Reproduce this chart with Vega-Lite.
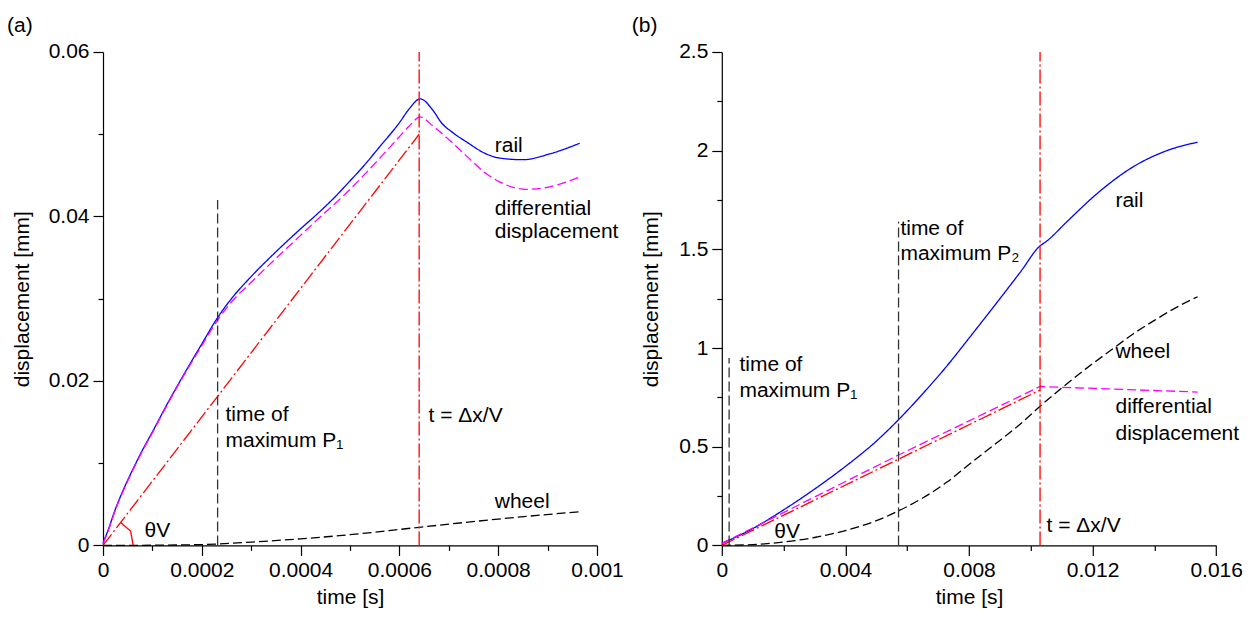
{
  "$schema": "https://vega.github.io/schema/vega-lite/v6.json",
  "padding": {"left": 7, "top": 15, "right": 5, "bottom": 5},
  "bounds": "flush",
  "spacing": 124.8,
  "datasets": {
    "a_lines": [
      {"s": "rail", "t": 0, "d": 0.0003}, {"s": "rail", "t": 0.00001, "d": 0.0018}, {"s": "rail", "t": 0.000025, "d": 0.0044},
      {"s": "rail", "t": 0.00004, "d": 0.0066}, {"s": "rail", "t": 0.00006, "d": 0.0092}, {"s": "rail", "t": 0.00008, "d": 0.0116},
      {"s": "rail", "t": 0.0001, "d": 0.0138}, {"s": "rail", "t": 0.00013, "d": 0.0172}, {"s": "rail", "t": 0.00016, "d": 0.0204},
      {"s": "rail", "t": 0.0002, "d": 0.0245}, {"s": "rail", "t": 0.000232, "d": 0.0277}, {"s": "rail", "t": 0.00026, "d": 0.03},
      {"s": "rail", "t": 0.0003, "d": 0.0327}, {"s": "rail", "t": 0.00035, "d": 0.0357}, {"s": "rail", "t": 0.0004, "d": 0.0385},
      {"s": "rail", "t": 0.00043, "d": 0.0401}, {"s": "rail", "t": 0.00047, "d": 0.0424}, {"s": "rail", "t": 0.000495, "d": 0.044},
      {"s": "rail", "t": 0.00053, "d": 0.0463}, {"s": "rail", "t": 0.000559, "d": 0.0484}, {"s": "rail", "t": 0.0006, "d": 0.0514},
      {"s": "rail", "t": 0.00062, "d": 0.0531}, {"s": "rail", "t": 0.000642, "d": 0.0543},
      {"s": "rail", "t": 0.000668, "d": 0.0529}, {"s": "rail", "t": 0.000685, "d": 0.0514},
      {"s": "rail", "t": 0.000708, "d": 0.0502}, {"s": "rail", "t": 0.000735, "d": 0.0491}, {"s": "rail", "t": 0.000776, "d": 0.0476},
      {"s": "rail", "t": 0.000803, "d": 0.0471}, {"s": "rail", "t": 0.00085, "d": 0.0469}, {"s": "rail", "t": 0.000904, "d": 0.0476},
      {"s": "rail", "t": 0.000965, "d": 0.0489},
      {"s": "diff", "t": 0, "d": 0.0002}, {"s": "diff", "t": 0.00001, "d": 0.0017}, {"s": "diff", "t": 0.000025, "d": 0.0043},
      {"s": "diff", "t": 0.00004, "d": 0.0065}, {"s": "diff", "t": 0.00006, "d": 0.0091}, {"s": "diff", "t": 0.00008, "d": 0.0115},
      {"s": "diff", "t": 0.0001, "d": 0.0137}, {"s": "diff", "t": 0.00013, "d": 0.0171}, {"s": "diff", "t": 0.00016, "d": 0.0203},
      {"s": "diff", "t": 0.0002, "d": 0.0243}, {"s": "diff", "t": 0.000232, "d": 0.0274}, {"s": "diff", "t": 0.00026, "d": 0.0296},
      {"s": "diff", "t": 0.0003, "d": 0.032}, {"s": "diff", "t": 0.00035, "d": 0.0349}, {"s": "diff", "t": 0.0004, "d": 0.0377},
      {"s": "diff", "t": 0.00043, "d": 0.0394}, {"s": "diff", "t": 0.000495, "d": 0.043}, {"s": "diff", "t": 0.000559, "d": 0.047},
      {"s": "diff", "t": 0.0006, "d": 0.0497}, {"s": "diff", "t": 0.00062, "d": 0.051}, {"s": "diff", "t": 0.000642, "d": 0.0521},
      {"s": "diff", "t": 0.000668, "d": 0.051}, {"s": "diff", "t": 0.000701, "d": 0.0493},
      {"s": "diff", "t": 0.000735, "d": 0.0474}, {"s": "diff", "t": 0.000776, "d": 0.0452}, {"s": "diff", "t": 0.000803, "d": 0.0442},
      {"s": "diff", "t": 0.000857, "d": 0.0433}, {"s": "diff", "t": 0.000904, "d": 0.0436}, {"s": "diff", "t": 0.000965, "d": 0.0448},
      {"s": "wheel", "t": 0, "d": 0}, {"s": "wheel", "t": 0.0001, "d": 0.00002}, {"s": "wheel", "t": 0.0002, "d": 0.0001},
      {"s": "wheel", "t": 0.0003, "d": 0.0004}, {"s": "wheel", "t": 0.0004, "d": 0.0008}, {"s": "wheel", "t": 0.0005, "d": 0.0013},
      {"s": "wheel", "t": 0.00064, "d": 0.0022}, {"s": "wheel", "t": 0.0008, "d": 0.0032}, {"s": "wheel", "t": 0.000965, "d": 0.0041},
      {"s": "slope", "t": 0, "d": 0}, {"s": "slope", "t": 0.00064, "d": 0.05}
    ],
    "a_theta": [
      {"t": 0.0000357, "d": 0.00279}, {"t": 0.0000558, "d": 0.00174}, {"t": 0.0000611, "d": 0}
    ],
    "a_rules": [
      {"s": "tmax", "t": 0.000232, "y1": 0, "y2": 0.042},
      {"s": "tdx", "t": 0.00064, "y1": 0, "y2": 0.06}
    ],
    "a_text": [
      {"label": "rail", "t": 0.000793, "d": 0.0486},
      {"label": "differential", "t": 0.000793, "d": 0.0409},
      {"label": "displacement", "t": 0.000793, "d": 0.0381},
      {"label": "time of", "t": 0.000248, "d": 0.0158},
      {"label": "maximum P₁", "t": 0.000248, "d": 0.0127},
      {"label": "t = Δx/V", "t": 0.000659, "d": 0.0157},
      {"label": "wheel", "t": 0.000793, "d": 0.0053},
      {"label": "θV", "t": 0.000084, "d": 0.0018}
    ],
    "b_smooth": [
      {"s": "rail", "t": 0, "d": 0.01}, {"s": "rail", "t": 0.001, "d": 0.085}, {"s": "rail", "t": 0.002, "d": 0.18},
      {"s": "rail", "t": 0.003, "d": 0.285}, {"s": "rail", "t": 0.004, "d": 0.4}, {"s": "rail", "t": 0.005, "d": 0.528},
      {"s": "rail", "t": 0.00572, "d": 0.637}, {"s": "rail", "t": 0.0065, "d": 0.768}, {"s": "rail", "t": 0.0073, "d": 0.912},
      {"s": "rail", "t": 0.008, "d": 1.05}, {"s": "rail", "t": 0.009, "d": 1.25}, {"s": "rail", "t": 0.0097, "d": 1.393},
      {"s": "rail", "t": 0.01028, "d": 1.515}, {"s": "rail", "t": 0.0105, "d": 1.54}, {"s": "rail", "t": 0.0112, "d": 1.645},
      {"s": "rail", "t": 0.0122, "d": 1.79}, {"s": "rail", "t": 0.0133, "d": 1.917}, {"s": "rail", "t": 0.0144, "d": 2.0},
      {"s": "rail", "t": 0.0154, "d": 2.043},
      {"s": "wheel", "t": 0, "d": 0}, {"s": "wheel", "t": 0.001, "d": 0.004}, {"s": "wheel", "t": 0.002, "d": 0.017},
      {"s": "wheel", "t": 0.003, "d": 0.04}, {"s": "wheel", "t": 0.004, "d": 0.075}, {"s": "wheel", "t": 0.005, "d": 0.125},
      {"s": "wheel", "t": 0.00572, "d": 0.175}, {"s": "wheel", "t": 0.0065, "d": 0.24}, {"s": "wheel", "t": 0.0073, "d": 0.322},
      {"s": "wheel", "t": 0.008, "d": 0.41}, {"s": "wheel", "t": 0.009, "d": 0.532}, {"s": "wheel", "t": 0.0097, "d": 0.62},
      {"s": "wheel", "t": 0.0103, "d": 0.705}, {"s": "wheel", "t": 0.011, "d": 0.797}, {"s": "wheel", "t": 0.0118, "d": 0.897},
      {"s": "wheel", "t": 0.0126, "d": 0.99}, {"s": "wheel", "t": 0.0133, "d": 1.07}, {"s": "wheel", "t": 0.014, "d": 1.14},
      {"s": "wheel", "t": 0.0147, "d": 1.205}, {"s": "wheel", "t": 0.0154, "d": 1.26}
    ],
    "b_linear": [
      {"s": "diff", "t": 0, "d": 0.01}, {"s": "diff", "t": 0.00572, "d": 0.458}, {"s": "diff", "t": 0.0103, "d": 0.805},
      {"s": "diff", "t": 0.0125, "d": 0.793}, {"s": "diff", "t": 0.0154, "d": 0.777},
      {"s": "slope", "t": 0, "d": 0}, {"s": "slope", "t": 0.0103, "d": 0.787}
    ],
    "b_rules": [
      {"s": "tmax", "t": 0.000237, "y1": 0, "y2": 0.95},
      {"s": "tmax", "t": 0.00572, "y1": 0, "y2": 1.64},
      {"s": "tdx", "t": 0.0103, "y1": 0, "y2": 2.5}
    ],
    "b_text": [
      {"label": "time of", "t": 0.00057, "d": 0.915},
      {"label": "maximum P₁", "t": 0.00057, "d": 0.784},
      {"label": "time of", "t": 0.00578, "d": 1.603},
      {"label": "maximum P₂", "t": 0.00578, "d": 1.477},
      {"label": "rail", "t": 0.01274, "d": 1.746},
      {"label": "wheel", "t": 0.01274, "d": 0.981},
      {"label": "differential", "t": 0.01274, "d": 0.703},
      {"label": "displacement", "t": 0.01274, "d": 0.566},
      {"label": "t = Δx/V", "t": 0.01051, "d": 0.1},
      {"label": "θV", "t": 0.0017, "d": 0.07}
    ]
  },
  "hconcat": [
    {
      "width": 494,
      "height": 493.4,
      "title": {"text": "(a)", "dx": -96},
      "layer": [
        {
          "data": {"name": "a_lines"},
          "mark": {"type": "line", "strokeWidth": 1.3, "interpolate": "monotone"},
          "encoding": {
            "x": {"field": "t", "type": "quantitative", "scale": {"domain": [0, 0.001], "nice": false, "zero": false},
              "axis": {"values": [0, 0.0002, 0.0004, 0.0006, 0.0008, 0.001], "format": "~g", "title": "time [s]", "orient": "bottom"}},
            "y": {"field": "d", "type": "quantitative", "scale": {"domain": [0, 0.06], "nice": false, "zero": false},
              "axis": {"values": [0, 0.02, 0.04, 0.06], "format": "~g", "title": "displacement [mm]", "orient": "left", "titlePadding": 16}},
            "color": {"field": "s", "type": "nominal", "legend": null,
              "scale": {"domain": ["rail", "diff", "wheel", "slope", "tmax", "tdx"], "range": ["#0000ff", "#ff00ff", "#000000", "#ff0000", "#333333", "#ff0000"]}},
            "strokeDash": {"field": "s", "type": "nominal", "legend": null,
              "scale": {"domain": ["rail", "diff", "wheel", "slope", "tmax", "tdx"], "range": [[1, 0], [9, 4], [9, 4], [14, 3, 2, 3], [10, 4], [14, 3, 2, 3]]}}
          }
        },
        {
          "data": {"name": "a_theta"},
          "mark": {"type": "line", "strokeWidth": 1.3, "color": "#ff0000"},
          "encoding": {
            "x": {"field": "t", "type": "quantitative", "axis": null},
            "y": {"field": "d", "type": "quantitative", "axis": null}
          }
        },
        {
          "data": {"name": "a_rules"},
          "mark": {"type": "rule", "strokeWidth": 1.3},
          "encoding": {
            "x": {"field": "t", "type": "quantitative",
              "axis": {"values": [0.0001, 0.0003, 0.0005, 0.0007, 0.0009], "labels": false, "domain": false, "tickSize": 5, "title": null, "orient": "bottom"}},
            "y": {"field": "y1", "type": "quantitative",
              "axis": {"values": [0.01, 0.03, 0.05], "labels": false, "domain": false, "tickSize": 5, "title": null, "orient": "left"}},
            "y2": {"field": "y2"},
            "color": {"field": "s", "type": "nominal", "legend": null,
              "scale": {"domain": ["rail", "diff", "wheel", "slope", "tmax", "tdx"], "range": ["#0000ff", "#ff00ff", "#000000", "#ff0000", "#333333", "#ff0000"]}},
            "strokeDash": {"field": "s", "type": "nominal", "legend": null,
              "scale": {"domain": ["rail", "diff", "wheel", "slope", "tmax", "tdx"], "range": [[1, 0], [9, 4], [9, 4], [14, 3, 2, 3], [10, 4], [14, 3, 2, 3]]}}
          }
        },
        {
          "data": {"name": "a_text"},
          "mark": {"type": "text", "align": "left", "baseline": "middle", "fontSize": 21, "font": "Liberation Sans", "color": "#000"},
          "encoding": {
            "x": {"field": "t", "type": "quantitative", "axis": null},
            "y": {"field": "d", "type": "quantitative", "axis": null},
            "text": {"field": "label"}
          }
        }
      ],
      "resolve": {"axis": {"x": "independent", "y": "independent"}}
    },
    {
      "width": 494.4,
      "height": 493.4,
      "title": {"text": "(b)", "dx": -90},
      "layer": [
        {
          "data": {"name": "b_smooth"},
          "mark": {"type": "line", "strokeWidth": 1.3, "interpolate": "monotone"},
          "encoding": {
            "x": {"field": "t", "type": "quantitative", "scale": {"domain": [0, 0.016], "nice": false, "zero": false},
              "axis": {"values": [0, 0.004, 0.008, 0.012, 0.016], "format": "~g", "title": "time [s]", "orient": "bottom"}},
            "y": {"field": "d", "type": "quantitative", "scale": {"domain": [0, 2.5], "nice": false, "zero": false},
              "axis": {"values": [0, 0.5, 1, 1.5, 2, 2.5], "format": "~g", "title": "displacement [mm]", "orient": "left", "titlePadding": 17}},
            "color": {"field": "s", "type": "nominal", "legend": null,
              "scale": {"domain": ["rail", "diff", "wheel", "slope", "tmax", "tdx"], "range": ["#0000ff", "#ff00ff", "#000000", "#ff0000", "#333333", "#ff0000"]}},
            "strokeDash": {"field": "s", "type": "nominal", "legend": null,
              "scale": {"domain": ["rail", "diff", "wheel", "slope", "tmax", "tdx"], "range": [[1, 0], [12, 4], [9, 4], [14, 3, 2, 3], [10, 4], [14, 3, 2, 3]]}}
          }
        },
        {
          "data": {"name": "b_linear"},
          "mark": {"type": "line", "strokeWidth": 1.3},
          "encoding": {
            "x": {"field": "t", "type": "quantitative", "axis": null},
            "y": {"field": "d", "type": "quantitative", "axis": null},
            "color": {"field": "s", "type": "nominal", "legend": null,
              "scale": {"domain": ["rail", "diff", "wheel", "slope", "tmax", "tdx"], "range": ["#0000ff", "#ff00ff", "#000000", "#ff0000", "#333333", "#ff0000"]}},
            "strokeDash": {"field": "s", "type": "nominal", "legend": null,
              "scale": {"domain": ["rail", "diff", "wheel", "slope", "tmax", "tdx"], "range": [[1, 0], [12, 4], [9, 4], [14, 3, 2, 3], [10, 4], [14, 3, 2, 3]]}}
          }
        },
        {
          "data": {"name": "b_rules"},
          "mark": {"type": "rule", "strokeWidth": 1.3},
          "encoding": {
            "x": {"field": "t", "type": "quantitative",
              "axis": {"values": [0.002, 0.006, 0.01, 0.014], "labels": false, "domain": false, "tickSize": 5, "title": null, "orient": "bottom"}},
            "y": {"field": "y1", "type": "quantitative",
              "axis": {"values": [0.25, 0.75, 1.25, 1.75, 2.25], "labels": false, "domain": false, "tickSize": 5, "title": null, "orient": "left"}},
            "y2": {"field": "y2"},
            "color": {"field": "s", "type": "nominal", "legend": null,
              "scale": {"domain": ["rail", "diff", "wheel", "slope", "tmax", "tdx"], "range": ["#0000ff", "#ff00ff", "#000000", "#ff0000", "#333333", "#ff0000"]}},
            "strokeDash": {"field": "s", "type": "nominal", "legend": null,
              "scale": {"domain": ["rail", "diff", "wheel", "slope", "tmax", "tdx"], "range": [[1, 0], [12, 4], [9, 4], [14, 3, 2, 3], [10, 4], [14, 3, 2, 3]]}}
          }
        },
        {
          "data": {"name": "b_text"},
          "mark": {"type": "text", "align": "left", "baseline": "middle", "fontSize": 21, "font": "Liberation Sans", "color": "#000"},
          "encoding": {
            "x": {"field": "t", "type": "quantitative", "axis": null},
            "y": {"field": "d", "type": "quantitative", "axis": null},
            "text": {"field": "label"}
          }
        }
      ],
      "resolve": {"axis": {"x": "independent", "y": "independent"}}
    }
  ],
  "config": {
    "view": {"stroke": null},
    "font": "Liberation Sans",
    "title": {"font": "Liberation Sans", "fontSize": 21, "fontWeight": "normal", "anchor": "start", "frame": "group", "color": "#000", "offset": 5},
    "axis": {
      "labelFont": "Liberation Sans", "labelFontSize": 21, "labelColor": "#000", "labelPadding": 4,
      "labelFlush": false, "labelOverlap": false,
      "titleFont": "Liberation Sans", "titleFontSize": 21, "titleFontWeight": "normal", "titleColor": "#000", "titlePadding": 6,
      "domainColor": "#000", "domainWidth": 1.2, "tickColor": "#000", "tickWidth": 1.2, "tickSize": 10, "grid": false
    }
  }
}
